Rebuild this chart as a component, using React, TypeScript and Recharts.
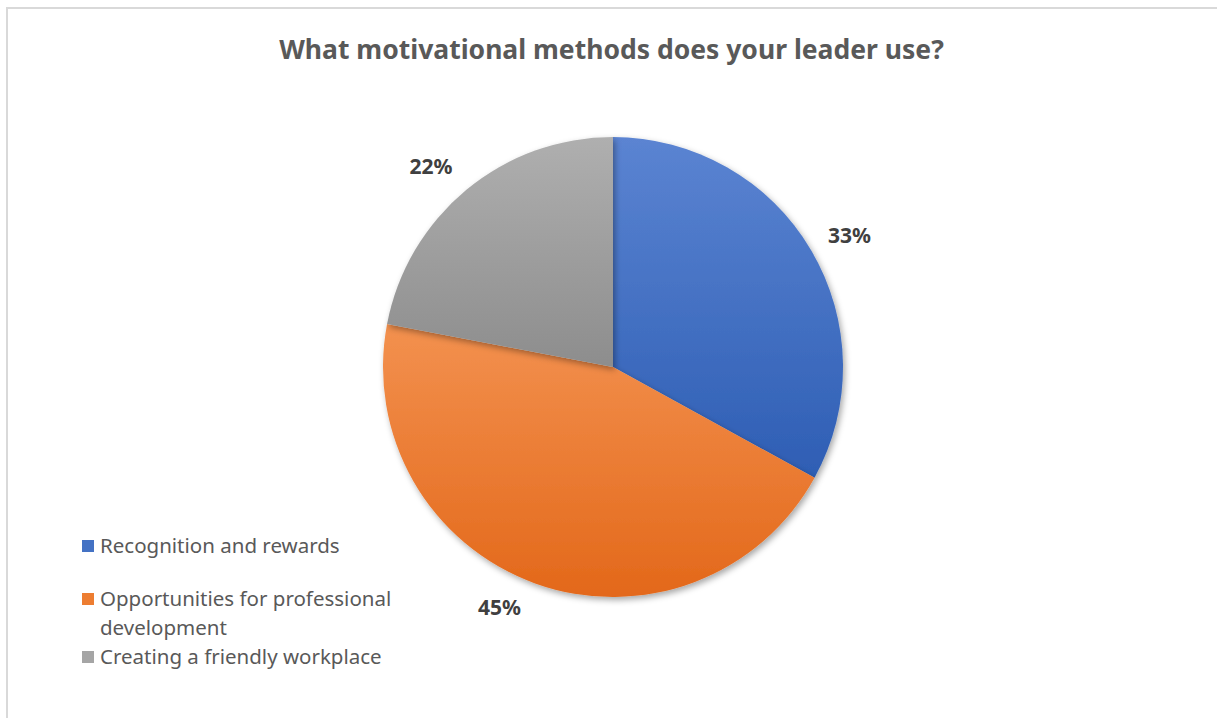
import React from 'react';
import { PieChart, Pie, Cell } from 'recharts';

const categories = ['Recognition and rewards', 'Opportunities for professional development', 'Creating a friendly workplace'];
const shares = [33, 45, 22];
const sliceColors = [
  { top: '#5b84d2', bottom: '#2e5eb4', flat: '#4472c4' },
  { top: '#f3914f', bottom: '#e3681a', flat: '#ed7d31' },
  { top: '#afafaf', bottom: '#8d8d8d', flat: '#a5a5a5' },
];

const FONT = '"Noto Sans", "Open Sans", sans-serif';
const RAD = Math.PI / 180;

const pieData = categories.map((name, i) => ({ name, value: shares[i] }));

// small hand tweaks so the labels sit where Excel's "best fit" put them
const labelNudge = [[4, 5], [-22, -14], [-10, 7]];

const renderLabel = (props: any) => {
  const { cx, cy, midAngle, outerRadius, value, index } = props;
  const r = outerRadius + 40;
  const [nx, ny] = labelNudge[index] || [0, 0];
  const x = cx + r * Math.cos(-midAngle * RAD) + nx;
  const y = cy + r * Math.sin(-midAngle * RAD) + ny;
  return (
    <text x={x} y={y} textAnchor="middle" dominantBaseline="central"
      fill="#404040" fontSize={21} fontWeight={700} fontFamily={FONT}>
      {`${value}%`}
    </text>
  );
};

const LegendBox = () => (
  <div style={{ position: 'absolute', left: 82, top: 531, fontFamily: FONT, fontSize: 20.5, color: '#595959', width: 330 }}>
    {categories.map((c, i) => (
      <div key={c} style={{ display: 'flex', alignItems: 'flex-start', marginBottom: i === 0 ? 24 : 0, lineHeight: '29px' }}>
        <span style={{ width: 12, height: 12, background: sliceColors[i].flat, marginTop: 9, marginRight: 6, flex: 'none' }} />
        <span>{c}</span>
      </div>
    ))}
  </div>
);

export default function App() {
  return (
    <div style={{ position: 'absolute', left: 0, top: 0, width: 1217, height: 718, background: '#fff', overflow: 'hidden' }}>
      <div style={{ position: 'absolute', left: 6, top: 7, width: 1211, height: 2, background: '#d9d9d9' }} />
      <div style={{ position: 'absolute', left: 6, top: 7, width: 2, height: 711, background: '#d9d9d9' }} />
      <div style={{ position: 'absolute', left: 0, top: 31, width: 1223, textAlign: 'center', fontFamily: FONT, fontSize: 26.5, fontWeight: 700, color: '#595959' }}>
        What motivational methods does your leader use?
      </div>
      <PieChart width={1217} height={718} margin={{ top: 0, right: 0, bottom: 0, left: 0 }} style={{ position: 'absolute', left: 0, top: 0 }}>
        <defs>
          {sliceColors.map((c, i) => (
            <linearGradient key={i} id={`slice-${i}`} x1="0" y1="0" x2="0" y2="1">
              <stop offset="0%" stopColor={c.top} />
              <stop offset="100%" stopColor={c.bottom} />
            </linearGradient>
          ))}
          <filter id="pie-shadow" x="-10%" y="-10%" width="120%" height="120%">
            <feDropShadow dx="2" dy="3" stdDeviation="3" floodColor="#000" floodOpacity="0.35" />
          </filter>
        </defs>
        <Pie
          data={pieData}
          dataKey="value"
          nameKey="name"
          cx={613}
          cy={367}
          outerRadius={230}
          startAngle={90}
          endAngle={-270}
          stroke="none"
          label={renderLabel}
          labelLine={false}
          isAnimationActive={false}
          style={{ filter: 'url(#pie-shadow)' }}
        >
          {pieData.map((d, i) => (
            <Cell key={d.name} fill={`url(#slice-${i})`} />
          ))}
        </Pie>
      </PieChart>
      <LegendBox />
    </div>
  );
}
